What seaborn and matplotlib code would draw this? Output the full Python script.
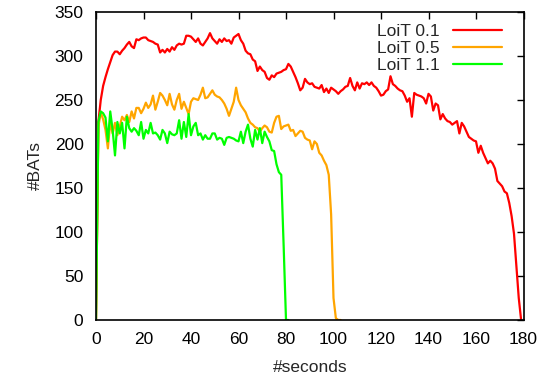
import numpy as np
import pandas as pd
import matplotlib
matplotlib.use("Agg")
import matplotlib.pyplot as plt
import seaborn as sns

# Number of BATs over time for three LoiT settings (one sample per second)
loit_01 = [
    0, 225, 250, 266, 276, 285, 293, 301, 305, 305,
    302, 306, 309, 313, 316, 311, 309, 319, 318, 320,
    321, 321, 318, 317, 316, 314, 313, 304, 307, 304,
    308, 305, 310, 307, 312, 314, 313, 314, 323, 323,
    322, 319, 316, 320, 314, 312, 316, 320, 326, 320,
    317, 314, 319, 316, 320, 317, 318, 314, 321, 323,
    325, 318, 314, 306, 303, 302, 296, 294, 283, 288,
    284, 282, 275, 273, 278, 276, 280, 281, 282, 284,
    285, 291, 288, 282, 276, 269, 261, 264, 274, 270,
    268, 269, 265, 264, 263, 267, 259, 263, 258, 264,
    262, 260, 257, 260, 262, 265, 266, 275, 266, 261,
    270, 263, 269, 268, 270, 267, 270, 266, 264, 260,
    255, 256, 260, 262, 277, 268, 266, 263, 261, 260,
    255, 248, 252, 231, 258, 256, 255, 254, 252, 246,
    257, 254, 238, 246, 244, 228, 234, 229, 226, 225,
    222, 224, 226, 212, 224, 220, 214, 208, 206, 204,
    203, 190, 198, 190, 184, 178, 181, 178, 172, 158,
    155, 152, 146, 144, 133, 118, 98, 62, 25, 0,
]

loit_05 = [
    0, 220, 236, 228, 216, 195, 225, 212, 224, 210,
    220, 231, 227, 233, 225, 237, 229, 241, 241, 235,
    240, 247, 241, 245, 255, 239, 248, 258, 255, 250,
    244, 257, 245, 239, 250, 257, 240, 248, 241, 234,
    248, 252, 251, 250, 256, 264, 252, 253, 257, 261,
    256, 254, 253, 250, 246, 240, 232, 240, 248, 264,
    250, 244, 240, 236, 229, 224, 222, 219, 218, 214,
    218, 221, 219, 214, 213, 224, 231, 232, 217, 220,
    221, 222, 215, 216, 209, 212, 215, 214, 207, 205,
    204, 194, 203, 200, 190, 187, 181, 176, 165, 120,
    25, 2, 0, 0,
]

loit_11 = [
    0, 225, 237, 235, 230, 203, 237, 216, 187, 225,
    212, 224, 195, 231, 218, 214, 218, 215, 210, 225,
    206, 216, 212, 224, 212, 213, 210, 205, 216, 212,
    201, 214, 211, 210, 212, 227, 206, 225, 208, 234,
    210, 220, 224, 210, 212, 205, 210, 206, 206, 212,
    212, 205, 207, 206, 199, 207, 208, 207, 206, 204,
    203, 214, 201, 214, 222, 206, 197, 216, 205, 218,
    201, 214, 208, 203, 193, 192, 177, 168, 165, 85,
    0, 0,
]

series_names = ["LoiT 0.1", "LoiT 0.5", "LoiT 1.1"]
series_values = [loit_01, loit_05, loit_11]
series_colors = ["#ff0000", "#ffa500", "#00ff00"]

x_ticks = list(range(0, 181, 20))
y_ticks = list(range(0, 351, 50))

frames = []
for name, vals in zip(series_names, series_values):
    frames.append(pd.DataFrame({
        "seconds": np.arange(len(vals)),
        "bats": vals,
        "run": name,
    }))
df = pd.concat(frames, ignore_index=True)

sns.set_theme(style="white")
plt.rcParams["font.family"] = ["Liberation Sans", "DejaVu Sans"]

FS = 12.5

fig = plt.figure(figsize=(5.49, 3.79), dpi=100)
ax = fig.add_axes([96 / 549, 1 - 320 / 379, 427.5 / 549, 308 / 379])

sns.lineplot(
    data=df, x="seconds", y="bats", hue="run",
    hue_order=series_names, palette=series_colors,
    linewidth=1.6, ax=ax, legend=True,
)

ax.set_xlim(0, 180)
ax.set_ylim(0, 350)
ax.set_xticks(x_ticks)
ax.set_yticks(y_ticks)
ax.tick_params(direction="in", length=5, width=1, top=True, right=True,
               labelsize=FS, colors="black")
ax.tick_params(axis="x", pad=9)
ax.tick_params(axis="y", pad=9)
for side in ax.spines.values():
    side.set_color("black")
    side.set_linewidth(1.2)

ax.set_xlabel("#seconds", fontsize=FS, labelpad=9)
ax.set_ylabel("#BATs", fontsize=FS, labelpad=8)

handles, labels = ax.get_legend_handles_labels()
leg = ax.legend(
    handles, labels, loc="upper right", bbox_to_anchor=(0.9497, 0.962),
    frameon=False, markerfirst=False, fontsize=FS, handlelength=2.85,
    handletextpad=0.75, labelspacing=0.12, borderpad=0, borderaxespad=0,
)

fig.savefig("out.png", dpi=100)
